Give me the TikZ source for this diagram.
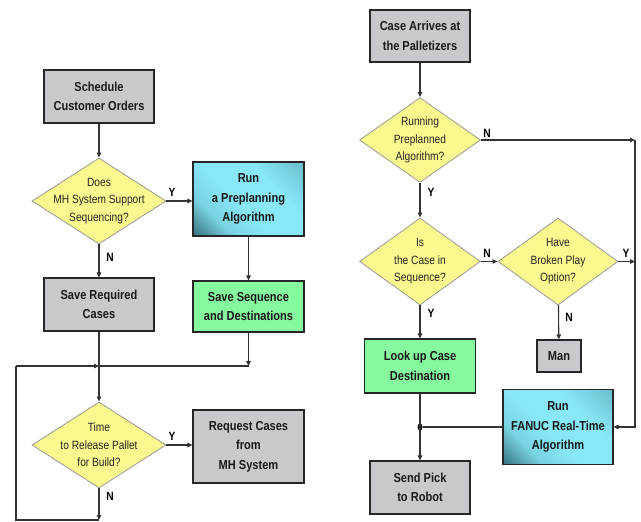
\documentclass[tikz,border=0pt]{standalone}
\usepackage{fontspec}
\setmainfont{Liberation Sans}[FakeStretch=0.85]
\usetikzlibrary{shapes.geometric,arrows.meta}

\definecolor{boxgray}{RGB}{200,201,204}
\definecolor{seqgreen}{RGB}{134,248,158}
\definecolor{decyellow}{RGB}{250,248,142}
\definecolor{algocyan}{RGB}{136,232,248}
\definecolor{algoteal}{RGB}{34,84,96}
\pgfdeclareverticalshading{algoshade}{100bp}{color(0bp)=(algoteal); color(10bp)=(algoteal);
  color(30bp)=(algocyan!85!algoteal); color(45bp)=(algocyan); color(65bp)=(algocyan);
  color(100bp)=(algocyan!50!algoteal)}

\begin{document}
\begin{tikzpicture}[x=1pt, y=-1pt, >={Triangle[length=5pt,width=4.5pt]},
    stepbox/.style={draw=black!85, line width=1.2pt, fill=boxgray, inner sep=0pt,
      align=center, text=black!90, font=\bfseries\fontsize{13}{19.5}\selectfont},
    seqbox/.style={stepbox, fill=seqgreen},
    algobox/.style={stepbox, shading=algoshade, shading angle=-45},
    decision/.style={diamond, draw=black!40, line width=0.8pt, fill=decyellow, inner sep=0pt},
    dectext/.style={align=center, text=black!85, font=\fontsize{12}{17.5}\selectfont},
    yn/.style={font=\bfseries\fontsize{12}{12}\selectfont, inner sep=0pt},
    flow/.style={draw=black!80, line width=1.1pt}]

  \useasboundingbox (0,0) rectangle (641,522);

  % Left chart: order side
  \node[stepbox, minimum width=110pt, minimum height=53pt] (sched) at (99,96.5) {Schedule\\Customer Orders};
  \node[decision, minimum width=134pt, minimum height=86pt,
    label={[dectext]center:{Does\\MH System Support\\Sequencing?}}] (support) at (99,201) {};
  \node[algobox, minimum width=111pt, minimum height=74pt] (preplan) at (248.5,199) {Run\\a Preplanning\\Algorithm};
  \node[stepbox, minimum width=110pt, minimum height=53pt] (savereq) at (99,304.5) {Save Required\\Cases};
  \node[seqbox, minimum width=111pt, minimum height=51pt] (saveseq) at (248.5,306.5) {Save Sequence\\and Destinations};
  \node[decision, minimum width=134pt, minimum height=86pt,
    label={[dectext]center:{Time\\to Release Pallet\\for Build?}}] (release) at (99,445) {};
  \node[stepbox, minimum width=111pt, minimum height=73pt] (request) at (248.5,446.5) {Request Cases\\from\\MH System};

  % Right chart: palletizer side
  \node[stepbox, minimum width=100pt, minimum height=52pt] (arrive) at (420,36) {Case Arrives at\\the Palletizers};
  \node[decision, minimum width=121pt, minimum height=85pt,
    label={[dectext]center:{Running\\Preplanned\\Algorithm?}}] (running) at (420,140) {};
  \node[decision, minimum width=121pt, minimum height=87pt,
    label={[dectext]center:{Is\\the Case in\\Sequence?}}] (insequence) at (420,261.5) {};
  \node[decision, minimum width=120pt, minimum height=87pt,
    label={[dectext]center:{Have\\Broken Play\\Option?}}] (broken) at (558,261.5) {};
  \node[stepbox, minimum width=44pt, minimum height=32pt] (man) at (559,356) {Man};
  \node[seqbox, minimum width=111pt, minimum height=54pt] (lookup) at (420,366) {Look up Case\\Destination};
  \node[algobox, minimum width=110pt, minimum height=75pt] (fanuc) at (558,427) {Run\\FANUC Real-Time\\Algorithm};
  \node[stepbox, minimum width=100pt, minimum height=53pt] (pick) at (420,487.5) {Send Pick\\to Robot};
  \node[ellipse, fill=black, inner sep=0pt, minimum width=5pt, minimum height=7pt] (dot) at (420,427) {};

  % Bends of the connectors
  \coordinate (mergeR) at (248.5,366);
  \coordinate (merge) at (99,366);
  \coordinate (loopL) at (16,366);
  \coordinate (loopB) at (99,520);
  \coordinate (rail) at (635,140);

  % Yes / No labels
  \foreach \nm/\x/\y/\t in {ysupport/172/192/Y, nsupport/110/257/N, yrelease/172/436/Y,
      nrelease/110/496/N, nrunning/487/133/N, yrunning/431/192/Y, nseq/487/253/N,
      yseq/431/313/Y, ybroken/626/253/Y, nbroken/569/317/N} {
    \node[yn] (\nm) at (\x,\y) {\t};
  }

  % Left connectors
  \draw[flow,->] (sched) -- (support);
  \draw[flow,->] (support.east) -- (support.east -| preplan.west);
  \draw[flow,->] (support) -- (savereq);
  \draw[flow,->] (preplan) -- (saveseq);
  \draw[flow,->] (saveseq) -- (mergeR);
  \draw[flow] (mergeR) -- (merge);
  \draw[flow,->] (savereq) -- (release);
  \draw[flow,->] (loopL) -- (merge);
  \draw[flow,->] (release) -- (loopB);
  \draw[flow] (loopB) -| (loopL);
  \draw[flow,->] (release.east) -- (release.east -| request.west);

  % Right connectors
  \draw[flow,->] (arrive) -- (running);
  \draw[flow,->] (running) -- (rail);
  \draw[flow,->] (rail) |- (fanuc);
  \draw[flow,->] (running) -- (insequence);
  \draw[flow,->] (insequence) -- (broken);
  \draw[flow,->] (broken.east) -- (broken.east -| rail);
  \draw[flow,->] (broken) -- (man);
  \draw[flow,->] (insequence) -- (lookup);
  \draw[flow,->] (lookup) -- (pick);
  \draw[flow] (fanuc) -- (dot);
\end{tikzpicture}
\end{document}
